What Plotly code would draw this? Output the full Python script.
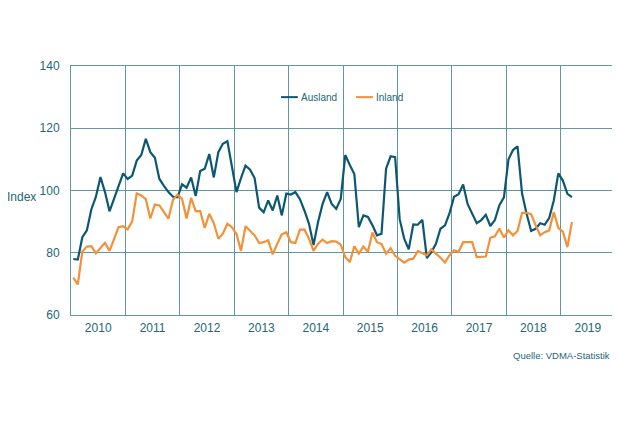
import plotly.graph_objects as go

YEARS = list(range(2010, 2020))
YEAR_LABELS = [str(y) for y in YEARS]
MONTHS_LAST_YEAR = 3  # data runs Jan 2010 - Mar 2019

AUSLAND = [
    78, 77.8, 85, 87.2, 94, 98, 104.3, 99.5, 93.3, 97.3, 101.6, 105.5,
    103.7, 104.8, 109.6, 111.4, 116.6, 112.3, 110.5, 103.7, 101.5, 99.5, 98, 97.8,
    102, 100.9, 104.2, 98.2, 106.3, 107, 111.7, 104.2, 112.3, 115, 115.8, 108,
    99.5, 104, 108, 106.7, 104, 94.5, 93, 96.8, 93.6, 98.4, 92, 99,
    98.7, 99.5, 97.2, 93.5, 89.3, 82.5, 89.9, 95.7, 99.5, 95.7, 94.1, 97.3,
    111.4, 108.2, 105.3, 88.2, 92, 91.5, 88.8, 85.6, 86.1, 107, 111, 110.7,
    90.8, 84.5, 81.1, 89.1, 89, 90.6, 78.3, 80.2, 82.9, 87.7, 88.8, 92.7,
    98, 98.8, 101.9, 95.6, 92.5, 89.5, 90.5, 92.2, 88.6, 90.5, 95.3, 97.8,
    110, 113, 114.2, 99, 92.5, 87, 87.7, 89.5, 89, 91.2, 96.8, 105.5,
    103.2, 98.9, 97.9,
]

INLAND = [
    72, 69.8, 80.4, 82, 82.1, 79.8, 81.5, 83.2, 80.6, 84.7, 88.2, 88.5,
    87.5, 90.1, 99.1, 98.4, 97.2, 91, 95.5, 95.2, 93, 91, 97, 98.7,
    97.3, 91, 97.6, 93.4, 93.4, 88, 92.5, 89.5, 84.5, 86.1, 89.3, 88.2,
    86, 80.6, 88.5, 87.2, 85.6, 83.1, 83.4, 84, 79.5, 82.9, 85.9, 86.6,
    83.4, 83.1, 87.4, 87.4, 84.5, 80.6, 82.9, 84.2, 83.1, 83.7, 83.6, 82.6,
    78.6, 77, 82.1, 79.7, 82, 80.3, 86.5, 83.4, 82.8, 79.7, 81.5, 79,
    77.8, 76.8, 77.8, 78.1, 80.5, 79.9, 79.2, 81.1, 79.9, 78.4, 76.9, 79.2,
    80.8, 80.3, 83.4, 83.4, 83.4, 78.6, 78.8, 78.8, 84.8, 85.3, 87.8, 84.9,
    87.2, 85.6, 87, 92.8, 92.8, 92.4, 88.8, 85.6, 86.6, 87.2, 93.1, 88,
    86.8, 81.8, 89.9,
]

# month positions as fractional years (mid-month)
X = [YEARS[0] + (i + 0.5) / 12 for i in range(len(AUSLAND))]

TEXT = "#246676"
GRID = "#5f98a3"
C_AUS = "#0c5872"
C_INL = "#f39138"
FONT = "Liberation Sans, Arial, sans-serif"

fig = go.Figure()
fig.add_trace(go.Scatter(x=X, y=AUSLAND, mode="lines", name="Ausland",
                         line=dict(color=C_AUS, width=2.2)))
fig.add_trace(go.Scatter(x=X, y=INLAND, mode="lines", name="Inland",
                         line=dict(color=C_INL, width=2.2)))

# page body has an 8px margin, so the figure is sized/offset to compensate
fig.update_layout(
    width=612, height=422,
    margin=dict(l=63, r=5, t=58, b=115, autoexpand=False),
    paper_bgcolor="white", plot_bgcolor="white",
    showlegend=False,
    font=dict(family=FONT, color=TEXT, size=12),
)
fig.update_xaxes(
    range=[2010, 2020],
    tickmode="array",
    tickvals=[y + 0.5 for y in YEARS],
    ticktext=YEAR_LABELS,
    showgrid=False, zeroline=False,
    showline=True, mirror=True, linecolor=GRID, linewidth=1,
    ticks="outside", ticklen=2, tickcolor="rgba(0,0,0,0)",
    minor=dict(tickmode="array", tickvals=YEARS[1:], showgrid=True,
               gridcolor=GRID, gridwidth=1, ticks=""),
    tickfont=dict(size=12, color=TEXT),
)
fig.update_yaxes(
    range=[60, 140], dtick=20, tick0=60,
    showgrid=True, gridcolor=GRID, gridwidth=1, zeroline=False,
    showline=True, mirror=True, linecolor=GRID, linewidth=1,
    ticks="outside", ticklen=8, tickcolor="rgba(0,0,0,0)",
    tickfont=dict(size=12, color=TEXT),
)

# legend drawn manually (short line samples)
legend_items = [("Ausland", C_AUS, 0.386), ("Inland", C_INL, 0.524)]
for name, col, x0 in legend_items:
    fig.add_shape(type="line", xref="paper", yref="paper",
                  x0=x0, x1=x0 + 0.031, y0=0.875, y1=0.875,
                  line=dict(color=col, width=2))
    fig.add_annotation(xref="paper", yref="paper", x=x0 + 0.033, y=0.875,
                       text=name, showarrow=False, xanchor="left",
                       yanchor="middle", font=dict(size=10, color=TEXT))

fig.add_annotation(xref="paper", yref="paper", x=-0.121, y=0.474,
                   text="Index", showarrow=False, xanchor="left",
                   yanchor="middle", font=dict(size=12, color=TEXT))
fig.add_annotation(xref="paper", yref="paper", x=0.9945, y=-0.161,
                   text="Quelle: VDMA-Statistik", showarrow=False,
                   xanchor="right", yanchor="middle",
                   font=dict(size=9.5, color=TEXT))

fig.write_html("out.html")
